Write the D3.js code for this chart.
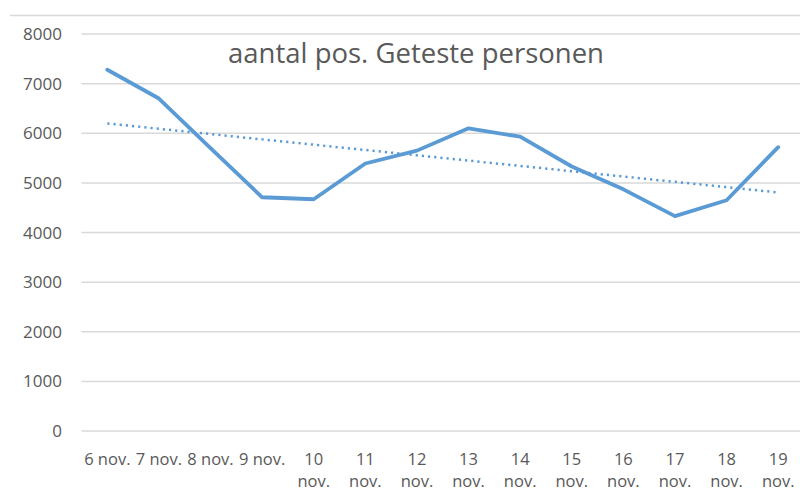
<!DOCTYPE html>
<html>
<head>
<meta charset="utf-8">
<script src="https://cdn.jsdelivr.net/npm/d3@7"></script>
<style>
  html, body { margin: 0; padding: 0; background: #fff; }
  svg { display: block; }
</style>
</head>
<body>
<svg id="chart" width="800" height="491"></svg>
<script>
// data
const categories = ["6 nov.", "7 nov.", "8 nov.", "9 nov.", "10 nov.", "11 nov.", "12 nov.",
  "13 nov.", "14 nov.", "15 nov.", "16 nov.", "17 nov.", "18 nov.", "19 nov."];
const positives = [7280, 6700, 5700, 4710, 4670, 5390, 5650, 6100, 5930, 5330, 4870, 4330, 4650, 5720];
const yTicks = [0, 1000, 2000, 3000, 4000, 5000, 6000, 7000, 8000];
const title = "aantal pos. Geteste personen";

const svg = d3.select("#chart");
const font = "'Open Sans', sans-serif";
const textColor = "#595959";
const blue = "#5b9bd5";

const x = d3.scaleBand()
  .domain(categories)
  .range([81.5, 804]);

const y = d3.scaleLinear()
  .domain([0, 8000])
  .range([431, 34]);

const xc = d => x(d) + x.bandwidth() / 2;

// top border of chart area
svg.append("line")
  .attr("x1", 10).attr("x2", 800)
  .attr("y1", 15.5).attr("y2", 15.5)
  .attr("stroke", "#d9d9d9")
  .attr("stroke-width", 1.5);

// gridlines
svg.append("g")
  .selectAll("line")
  .data(yTicks)
  .enter()
  .append("line")
  .attr("x1", 81.5).attr("x2", 800)
  .attr("y1", d => y(d)).attr("y2", d => y(d))
  .attr("stroke", "#d9d9d9")
  .attr("stroke-width", 1.5);

// y labels
svg.append("g")
  .selectAll("text")
  .data(yTicks)
  .enter()
  .append("text")
  .attr("x", 62)
  .attr("y", d => y(d))
  .attr("dy", "0.36em")
  .attr("text-anchor", "end")
  .attr("font-family", font)
  .attr("font-size", 17)
  .attr("fill", textColor)
  .text(d => d);

// x labels, two-digit days wrap onto two lines
const xl = svg.append("g")
  .selectAll("text")
  .data(categories)
  .enter()
  .append("text")
  .attr("text-anchor", "middle")
  .attr("font-family", font)
  .attr("font-size", 16.5)
  .attr("fill", textColor);

xl.each(function(d) {
  const t = d3.select(this);
  const parts = d.length > 6 ? d.split(" ") : [d];
  parts.forEach((p, i) => {
    t.append("tspan")
      .attr("x", xc(d))
      .attr("y", 465 + i * 22)
      .text(p);
  });
});

// trendline (least squares over the series)
const n = positives.length;
const mx = (n - 1) / 2;
const my = d3.mean(positives);
let sxy = 0, sxx = 0;
positives.forEach((v, i) => { sxy += (i - mx) * (v - my); sxx += (i - mx) * (i - mx); });
const slope = sxy / sxx;
const trend = positives.map((v, i) => my + slope * (i - mx));

svg.append("path")
  .datum(trend)
  .attr("fill", "none")
  .attr("stroke", blue)
  .attr("stroke-width", 2.5)
  .attr("stroke-dasharray", "2.2,4")
  .attr("d", d3.line()
    .x((d, i) => xc(categories[i]))
    .y(d => y(d)));

// main series
svg.append("path")
  .datum(positives)
  .attr("fill", "none")
  .attr("stroke", blue)
  .attr("stroke-width", 3.8)
  .attr("stroke-linejoin", "round")
  .attr("stroke-linecap", "round")
  .attr("d", d3.line()
    .x((d, i) => xc(categories[i]))
    .y(d => y(d)));

// title
svg.append("text")
  .attr("x", 416)
  .attr("y", 63)
  .attr("text-anchor", "middle")
  .attr("font-family", font)
  .attr("font-size", 27.5)
  .attr("fill", textColor)
  .text(title);
</script>
</body>
</html>
